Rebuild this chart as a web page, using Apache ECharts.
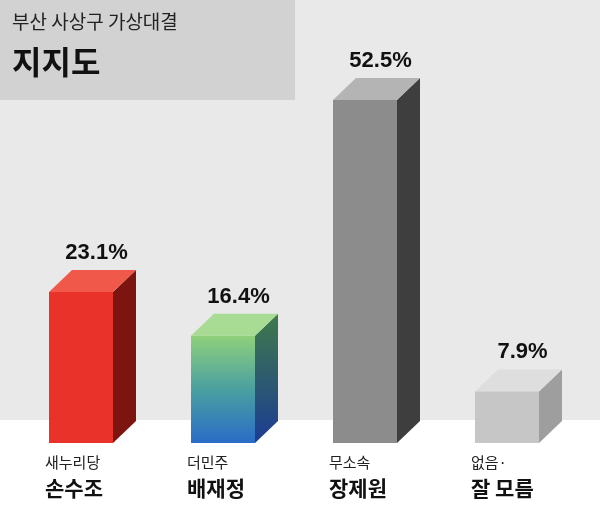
<!DOCTYPE html><html><head><meta charset="utf-8">
<script src="https://cdn.jsdelivr.net/npm/echarts@6/dist/echarts.min.js"></script>
<style>html,body{margin:0;padding:0}#c{width:600px;height:523px}</style></head><body><div id="c"></div>
<script>
const categories=['손수조','배재정','장제원','없음'];
const parties=['새누리당','더민주','무소속','없음·'];
const names=['손수조','배재정','장제원','잘 모름'];
const values=[23.1,16.4,52.5,7.9];
const valueLabels=['23.1%','16.4%','52.5%','7.9%'];
const styles=[
 {front:'#e8322a',side:'#7c1410',top:'#f0584a'},
 {front:{type:'linear',x:0,y:0,x2:0,y2:1,colorStops:[{offset:0,color:'#8fd07c'},{offset:0.5,color:'#4aa0a0'},{offset:1,color:'#2a6cc8'}]},
  side:{type:'linear',x:0,y:0,x2:0,y2:1,colorStops:[{offset:0,color:'#3f7a4a'},{offset:1,color:'#1c3c94'}]},top:'#a8dc94'},
 {front:'#8c8c8c',side:'#3e3e3e',top:'#b4b4b4'},
 {front:'#c6c6c6',side:'#9e9e9e',top:'#dedede'}
];
const chart=echarts.init(document.getElementById('c'));
const W=64,DX=23,DY=22;
chart.setOption({
 animation:false,
 backgroundColor:'#e9e9e9',
 graphic:[
  {type:'rect',shape:{x:0,y:420,width:600,height:103},style:{fill:'#ffffff'},z:-10},
  {type:'rect',shape:{x:0,y:0,width:295,height:100},style:{fill:'#d2d2d2'},z:-5},
  {type:'text',left:12,top:12,style:{text:'부산 사상구 가상대결',fontSize:19,fill:'#222',fontFamily:'Noto Sans CJK KR'}},
  {type:'text',left:12,top:46,style:{text:'지지도',fontSize:32,fontWeight:'bold',fill:'#111',fontFamily:'Noto Sans CJK KR'}}
 ],
 grid:{left:10,right:22,top:51,bottom:80},
 xAxis:{type:'category',data:categories,show:false},
 yAxis:{type:'value',min:0,max:60,show:false},
 series:[{type:'custom',data:values.map((v,i)=>[i,v]),
  renderItem:function(params,api){
   const i=api.value(0),v=api.value(1);
   const b=api.coord([i,0]),t=api.coord([i,v]);
   const x0=b[0]-W/2,x1=b[0]+W/2,yb=b[1],yt=t[1];
   const s=styles[i];
   return {type:'group',children:[
    {type:'polygon',shape:{points:[[x1,yt],[x1+DX,yt-DY],[x1+DX,yb-DY],[x1,yb]]},style:{fill:s.side}},
    {type:'polygon',shape:{points:[[x0,yt],[x0+DX,yt-DY],[x1+DX,yt-DY],[x1,yt]]},style:{fill:s.top}},
    {type:'rect',shape:{x:x0,y:yt,width:W,height:yb-yt},style:{fill:s.front}},
    {type:'text',x:b[0]+DX/2+4,y:yt-DY-6,style:{text:valueLabels[i],fontSize:22,fontWeight:'bold',fill:'#111',align:'center',verticalAlign:'bottom',fontFamily:'Liberation Sans'}},
    {type:'text',x:x0-4,y:yb+12,style:{text:parties[i],fontSize:15,fill:'#222',align:'left',verticalAlign:'top',fontFamily:'Noto Sans CJK KR'}},
    {type:'text',x:x0-4,y:yb+35,style:{text:names[i],fontSize:21,fontWeight:'bold',fill:'#111',align:'left',verticalAlign:'top',fontFamily:'Noto Sans CJK KR'}}
   ]};
  }}]
});
</script></body></html>
